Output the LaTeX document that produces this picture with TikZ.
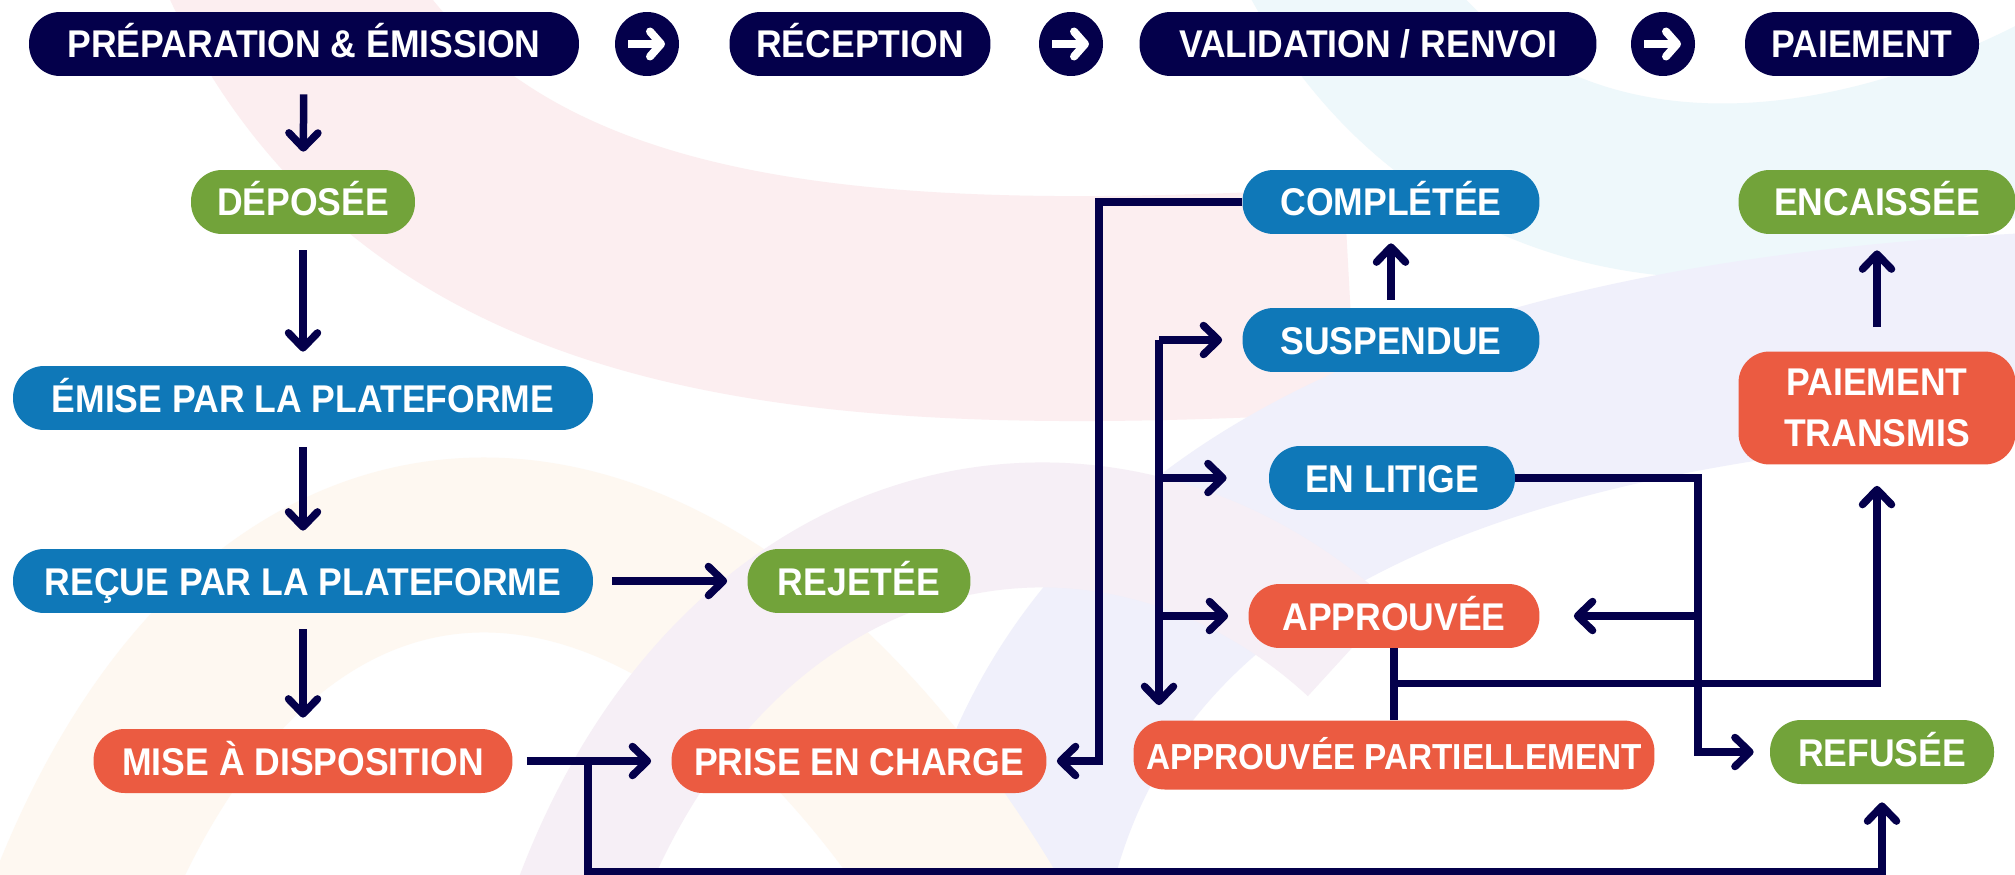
\documentclass[tikz,border=0pt]{standalone}
\usepackage{fontspec}
\setmainfont{Liberation Sans}[FakeStretch=0.92]
\usetikzlibrary{positioning, arrows.meta, calc}
\definecolor{navycolor}{RGB}{4,0,75}
\definecolor{bluecolor}{RGB}{15,120,184}
\definecolor{greencolor}{RGB}{114,163,58}
\definecolor{redcolor}{RGB}{235,91,65}
\definecolor{pinkbg}{RGB}{252,238,240}
\definecolor{cyanbg}{RGB}{238,248,251}
\definecolor{lavbg}{RGB}{240,240,251}
\definecolor{peachbg}{RGB}{254,248,241}

\begin{document}
\begin{tikzpicture}[x=0.02cm, y=-0.02cm,
    etat/.style={rectangle, rounded corners=0.62cm, minimum height=1.28cm, inner sep=0pt,
        text=white, font=\fontsize{22}{29}\selectfont\bfseries, align=center,
        text height=0.56cm, text depth=0pt},
    entete/.style={etat, fill=navycolor},
    bleu/.style={etat, fill=bluecolor},
    vert/.style={etat, fill=greencolor},
    rouge/.style={etat, fill=redcolor},
    rond/.style={circle, fill=navycolor, minimum size=1.28cm, inner sep=0pt},
    lien/.style={draw=navycolor, line width=0.15cm},
    fleche/.style={lien, -{Straight Barb[length=0.3cm, width=0.58cm, round]}}
]
    % Fond
    \useasboundingbox (0,0) rectangle (2015,875);
    \fill[white] (0,0) rectangle (2015,875);
    \draw[line width=4.5cm, pinkbg] (250,-100) .. controls (400,300) and (800,330) .. (1350,300);
    \draw[line width=3.5cm, cyanbg] (1300,-100) .. controls (1450,250) and (1800,250) .. (2100,80);
    \draw[line width=4cm, lavbg] (1000,950) .. controls (1050,500) and (1500,350) .. (2100,330);
    \draw[line width=3.5cm, peachbg] (60,950) .. controls (250,400) and (700,420) .. (1000,950);
    \draw[line width=2.5cm, pinkbg!50!lavbg] (560,950) .. controls (700,500) and (1100,420) .. (1350,650);

    % Etapes (en-tete)
    \node[entete, minimum width=11cm] (prep) at (304,44) {PRÉPARATION \& ÉMISSION};
    \node[rond] (rond1) at (647,44) {};
    \node[entete, minimum width=5.22cm] (recep) at (860,44) {RÉCEPTION};
    \node[rond] (rond2) at (1071,44) {};
    \node[entete, minimum width=9.14cm] (valid) at (1368,44) {VALIDATION / RENVOI};
    \node[rond] (rond3) at (1663,44) {};
    \node[entete, minimum width=4.68cm] (paie) at (1862,44) {PAIEMENT};
    \foreach \r in {rond1, rond2, rond3}
        \draw[white, line width=0.16cm, -{Straight Barb[length=0.22cm, width=0.5cm, round]}]
            ([xshift=-0.38cm]\r.center) -- ([xshift=0.36cm]\r.center);

    % Colonne de gauche
    \node[vert, minimum width=4.48cm] (deposee) at (303,202) {DÉPOSÉE};
    \node[bleu, minimum width=11.6cm] (emise) at (303,398) {ÉMISE PAR LA PLATEFORME};
    \node[bleu, minimum width=11.6cm] (recue) at (303,581) {REÇUE PAR LA PLATEFORME};
    \node[vert, minimum width=4.46cm] (rejetee) at (859,581) {REJETÉE};
    \node[rouge, minimum width=8.38cm] (mise) at (303,761) {MISE À DISPOSITION};
    \node[rouge, minimum width=7.5cm] (prise) at (859,761) {PRISE EN CHARGE};

    % Validation
    \node[bleu, minimum width=5.94cm] (completee) at (1391,202) {COMPLÉTÉE};
    \node[bleu, minimum width=5.94cm] (suspendue) at (1391,340) {SUSPENDUE};
    \node[bleu, minimum width=4.92cm] (litige) at (1392,478) {EN LITIGE};
    \node[rouge, minimum width=5.82cm] (approuvee) at (1394,616) {APPROUVÉE};
    \node[rouge, minimum width=10.42cm, minimum height=1.38cm, font=\fontsize{20.6}{26}\selectfont\bfseries]
        (partielle) at (1394,755) {APPROUVÉE PARTIELLEMENT};

    % Paiement
    \node[vert, minimum width=5.54cm] (encaissee) at (1877,202) {ENCAISSÉE};
    \node[rouge, minimum width=5.54cm, minimum height=2.26cm, text height=, text depth=]
        (transmis) at (1877,408) {PAIEMENT\\TRANSMIS};
    \node[vert, minimum width=4.48cm] (refusee) at (1882,752) {REFUSÉE};

    % Points de passage
    \coordinate (nMise) at (588,761);
    \coordinate (bas) at (588,872);
    \coordinate (busG) at (1159,340);
    \coordinate (busD) at (1698,478);

    % Fleches colonne de gauche
    \draw[fleche, shorten <=0.36cm, shorten >=0.36cm] (prep) -- (deposee);
    \draw[fleche, shorten <=0.32cm, shorten >=0.28cm] (deposee) -- (emise);
    \draw[fleche, shorten <=0.34cm, shorten >=0.36cm] (emise) -- (recue);
    \draw[fleche, shorten <=0.32cm, shorten >=0.22cm] (recue) -- (mise);
    \draw[fleche, shorten <=0.38cm, shorten >=0.4cm] (recue) -- (rejetee);
    \draw[fleche, shorten <=0.28cm, shorten >=0.4cm] (mise) -- (prise);
    \draw[fleche, shorten >=0.36cm] (nMise) -- (bas) -| (refusee);

    % Renvoi vers prise en charge
    \draw[fleche, shorten >=0.2cm] (completee.west) -- ++(-143,0) |- (prise.east);

    % Aiguillage de validation
    \draw[fleche, shorten >=0.3cm] (busG) -- (busG |- partielle.north);
    \draw[fleche, shorten >=0.4cm] (busG) -- (suspendue.west);
    \draw[fleche, shorten >=0.84cm] (busG |- litige) -- (litige.west);
    \draw[fleche, shorten >=0.4cm] (busG |- approuvee) -- (approuvee.west);
    \draw[fleche, shorten <=0.16cm, shorten >=0.18cm] (suspendue) -- (completee);

    % Litige
    \draw[fleche, shorten >=0.32cm] (litige.east) -- (busD) |- (refusee.west);
    \draw[fleche, shorten >=0.68cm] (busD |- approuvee) -- (approuvee.east);

    % Paiement
    \draw[lien] (approuvee.south) -- (partielle.north);
    \draw[fleche, shorten >=0.42cm] (approuvee.south) -- ++(0,35) -| (transmis.south);
    \draw[fleche, shorten <=0.48cm, shorten >=0.32cm] (transmis) -- (encaissee);
\end{tikzpicture}
\end{document}
